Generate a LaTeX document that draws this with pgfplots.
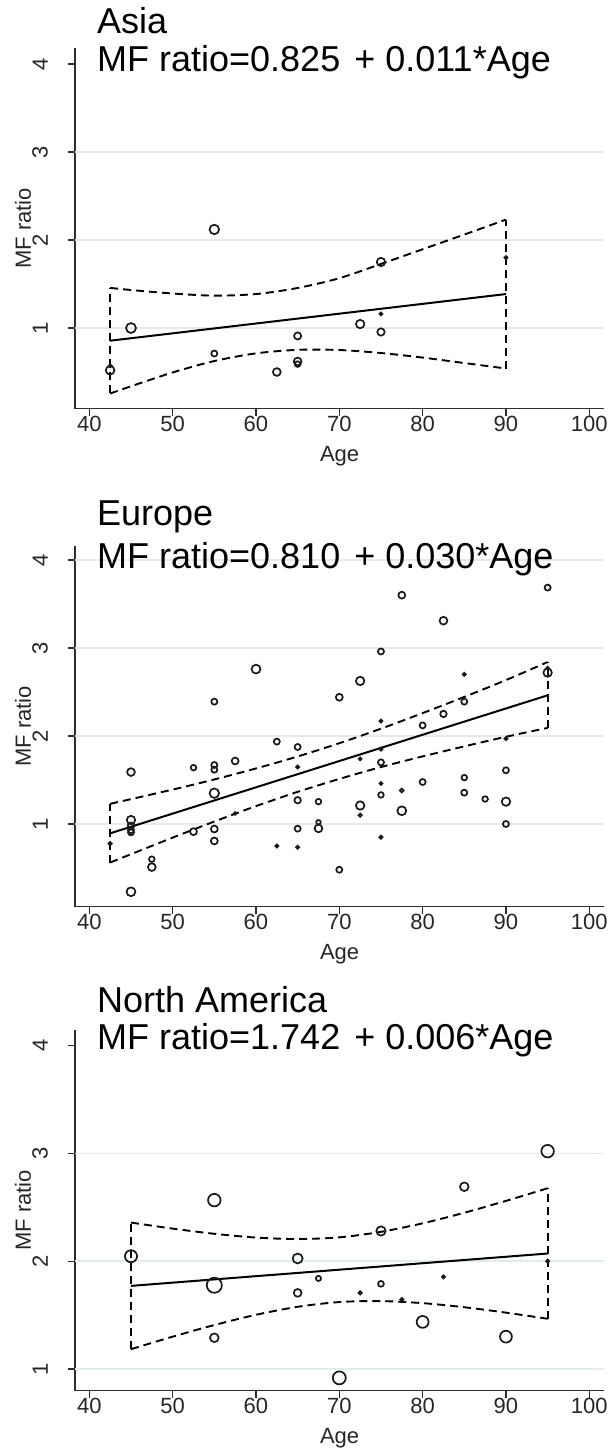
\documentclass[border=0pt]{standalone}
\usepackage{graphicx}
\usepackage{pgfplots}
\pgfplotsset{compat=1.18}
\usepackage{fontspec}
\setmainfont{Liberation Sans}
\definecolor{gridc}{RGB}{226,236,236}
\definecolor{axc}{RGB}{45,45,45}
\newcommand{\tfont}{\fontsize{36}{40}\selectfont}
\newcommand{\lfont}{\fontsize{22}{24}\selectfont}
\pgfplotsset{
  panel/.style={
    scale only axis,
    width=529.2pt,
    height=361pt,
    xmin=38.28, xmax=101.79,
    axis lines*=left,
    axis line style={axc, line width=1.3pt, -},
    xtick={40,50,...,100},
    ytick={1,2,3,4},
    tick align=outside,
    major tick length=7pt,
    every tick/.style={axc, line width=1.3pt},
    tick label style={font=\lfont, text=black!85},
    /pgf/number format/assume math mode=true,
    xticklabel style={anchor=north, inner sep=0pt},
    xticklabel shift=0pt,
    yticklabel={\rotatebox{90}{\pgfmathprintnumber{\tick}}},
    yticklabel style={anchor=east, inner sep=0pt, xshift=-20pt},
    yticklabel shift=0pt,
    xlabel={Age},
    ylabel={MF ratio},
    every axis x label/.style={at={(axis description cs:0.5,-0.1036)}, anchor=north, inner sep=0pt, font=\lfont, text=black!85},
    every axis y label/.style={at={(axis description cs:-0.0828,0.5)}, rotate=90, anchor=south, inner sep=0pt, font=\lfont, text=black!85},
    extra tick style={grid=major, major grid style={gridc, line width=1.5pt}, major tick length=0pt, yticklabel={}},
  },
  pts/.style={scatter, only marks, mark=o,
    scatter/use mapped color={draw=black!90},
    mark options={line width=1.7pt},
    visualization depends on={1.08*\thisrow{r} \as \rr},
    scatter/@pre marker code/.append style={/tikz/mark size=\rr}},
  fit/.style={black, line width=2pt},
  ci/.style={black, line width=1.9pt, dash pattern=on 8pt off 5pt},
}
\begin{document}
\begin{tikzpicture}
\path[use as bounding box] (0,0) rectangle (612pt,-1449pt);

% ---------------- Asia ----------------
\begin{axis}[panel, at={(75pt,-408.8pt)}, anchor=south west,
  ymin=0.082, ymax=4.184, extra y ticks={1,2,3}]
\addplot[pts] table {
a v r
55 2.12 4.4
45 1.00 4.6
42.5 0.52 4.0
42.5 0.57 1.4
55 0.71 2.8
62.5 0.50 3.6
65 0.91 3.3
65 0.62 3.6
65 0.59 2.6
72.5 1.045 3.9
75 1.75 3.9
75 1.16 1.4
75 0.955 3.4
90 1.80 1.4
};
\addplot[ci, smooth] coordinates {(42.5,1.456) (45,1.432) (50,1.392) (55,1.368) (60,1.386) (65,1.455) (70,1.566) (75,1.728) (80,1.895) (85,2.062) (90,2.232)};
\addplot[ci, smooth] coordinates {(42.5,0.256) (45,0.338) (50,0.495) (55,0.625) (60,0.712) (65,0.752) (70,0.750) (75,0.716) (80,0.664) (85,0.602) (90,0.540)};
\addplot[ci] coordinates {(42.5,0.256) (42.5,1.456)};
\addplot[ci] coordinates {(90,0.540) (90,2.232)};
\addplot[fit] coordinates {(42.5,0.856) (90,1.386)};
\end{axis}

% ---------------- Europe ----------------
\begin{axis}[panel, at={(75pt,-906.7pt)}, anchor=south west,
  ymin=0.060, ymax=4.162, extra y ticks={1,2,3,4}]
\addplot[pts] table {
a v r
95 3.686 2.8
77.5 3.60 3.2
82.5 3.31 3.6
75 2.96 2.8
60 2.76 4.1
72.5 2.625 3.9
55 2.39 2.8
70 2.44 3.2
85 2.70 1.4
95 2.72 3.9
95 2.77 1.4
85 2.39 2.8
82.5 2.25 3.0
80 2.12 2.8
75 2.17 1.4
62.5 1.936 2.8
65 1.875 2.8
65 1.648 1.4
52.5 1.64 2.6
55 1.67 2.8
55 1.617 2.8
57.5 1.716 3.2
45 1.59 3.6
55 1.35 4.4
72.5 1.74 1.4
75 1.85 1.4
75 1.70 2.8
90 1.97 1.4
90 1.61 2.8
80 1.477 2.8
85 1.527 2.6
85 1.356 2.8
87.5 1.284 2.6
90 1.254 3.9
90 1.00 2.8
75 1.46 1.4
75 1.33 2.6
77.5 1.38 1.8
77.5 1.15 4.1
72.5 1.21 3.9
72.5 1.10 1.5
75 0.85 1.5
67.5 1.254 2.6
67.5 1.02 2.1
67.5 0.95 3.6
65 1.27 3.0
65 0.947 2.8
62.5 0.75 1.4
65 0.735 1.4
70 0.48 2.8
57.5 1.12 1.2
52.5 0.913 3.2
55 0.943 3.2
55 0.807 3.2
45 1.045 3.9
45 0.98 3.0
45 0.93 2.8
45 0.905 2.8
42.5 0.777 1.5
47.5 0.60 2.6
47.5 0.51 3.6
45 0.23 4.1
};
\addplot[ci, smooth] coordinates {(42.5,1.229) (50,1.391) (55,1.506) (60,1.631) (65,1.767) (70,1.918) (75,2.083) (80,2.260) (85,2.444) (90,2.635) (95,2.840)};
\addplot[ci, smooth] coordinates {(42.5,0.562) (50,0.845) (55,1.028) (60,1.203) (65,1.365) (70,1.512) (75,1.647) (80,1.768) (85,1.882) (90,1.991) (95,2.092)};
\addplot[ci] coordinates {(42.5,0.562) (42.5,1.229)};
\addplot[ci] coordinates {(95,2.092) (95,2.840)};
\addplot[fit] coordinates {(42.5,0.894) (95,2.462)};
\end{axis}

% ---------------- North America ----------------
\begin{axis}[panel, at={(75pt,-1390.7pt)}, anchor=south west,
  ymin=0.799, ymax=4.146, extra y ticks={1,2,3}]
\addplot[pts] table {
a v r
95 3.02 5.8
85 2.69 4.0
55 2.566 5.8
75 2.28 4.3
45 2.046 5.6
65 2.025 4.6
95 2.0 1.4
55 1.777 7.0
67.5 1.84 2.4
75 1.79 2.7
82.5 1.855 1.4
65 1.706 3.6
72.5 1.706 1.5
77.5 1.644 1.5
80 1.437 5.5
90 1.30 5.5
55 1.29 4.0
70 0.918 6.0
};
\addplot[ci, smooth] coordinates {(45,2.358) (50,2.302) (55,2.254) (60,2.219) (65,2.205) (70,2.221) (75,2.272) (80,2.351) (85,2.449) (90,2.559) (95,2.676)};
\addplot[ci, smooth] coordinates {(45,1.184) (50,1.300) (55,1.408) (60,1.503) (65,1.577) (70,1.621) (75,1.630) (80,1.611) (85,1.573) (90,1.523) (95,1.466)};
\addplot[ci] coordinates {(45,1.184) (45,2.358)};
\addplot[ci] coordinates {(95,1.466) (95,2.676)};
\addplot[fit] coordinates {(45,1.771) (95,2.071)};
\end{axis}

% ---------------- titles ----------------
\node[anchor=base west, inner sep=0pt, font=\tfont] at (97pt,-33.3pt) {Asia};
\node[anchor=base west, inner sep=0pt, font=\tfont] at (97pt,-71.7pt) {MF ratio=0.825\kern4pt\ + 0.011*Age};
\node[anchor=base west, inner sep=0pt, font=\tfont] at (97pt,-525pt) {Europe};
\node[anchor=base west, inner sep=0pt, font=\tfont] at (97pt,-568pt) {MF ratio=0.810\kern4pt\ + 0.030*Age};
\node[anchor=base west, inner sep=0pt, font=\tfont] at (97pt,-1012.3pt) {North America};
\node[anchor=base west, inner sep=0pt, font=\tfont] at (97pt,-1049pt) {MF ratio=1.742\kern4pt\ + 0.006*Age};
\end{tikzpicture}
\end{document}
